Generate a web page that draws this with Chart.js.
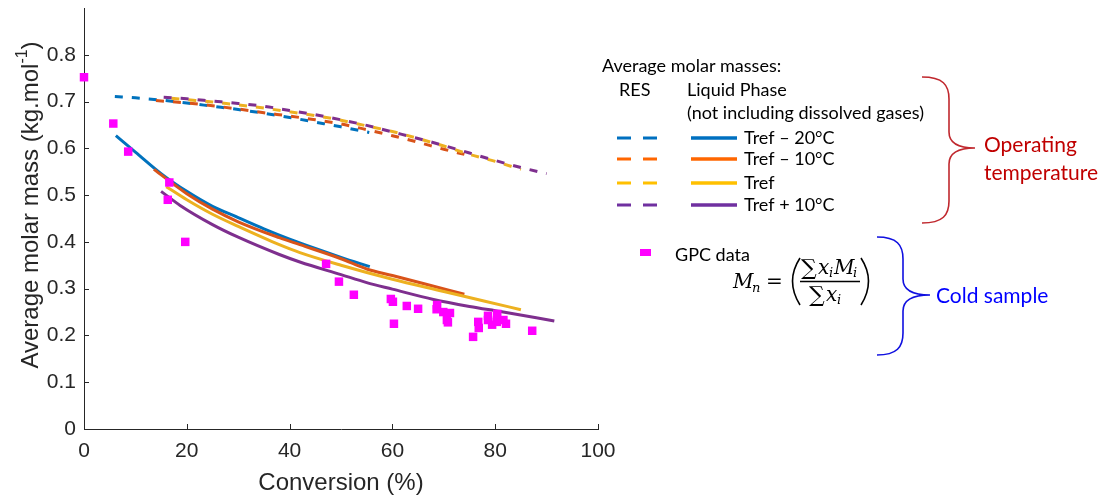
<!DOCTYPE html>
<html>
<head>
<meta charset="utf-8">
<script src="https://cdn.jsdelivr.net/npm/chart.js@4.4.1/dist/chart.umd.min.js"></script>
<style>
html, body { margin: 0; padding: 0; background: #fff; }
canvas { display: block; }
</style>
</head>
<body>
<canvas id="chart" width="1105" height="497"></canvas>
<script>
// axis ticks
const xTicks = [0, 20, 40, 60, 80, 100];
const yTicks = [0, 0.1, 0.2, 0.3, 0.4, 0.5, 0.6, 0.7, 0.8];

// RES curves (dashed)
const resBlueX = [6, 10, 15, 20, 25, 30, 35, 40, 45, 50, 55.5];
const resBlueY = [0.711, 0.708, 0.703, 0.697, 0.690, 0.683, 0.675, 0.666, 0.656, 0.646, 0.634];
const resOrangeX = [14, 20, 25, 30, 35, 40, 45, 50, 55, 60, 65, 70, 74];
const resOrangeY = [0.702, 0.697, 0.691, 0.684, 0.676, 0.669, 0.661, 0.652, 0.640, 0.627, 0.613, 0.598, 0.587];
const resYellowX = [17, 20, 25, 30, 35, 40, 45, 50, 55, 60, 65, 70, 75, 80, 85];
const resYellowY = [0.707, 0.704, 0.699, 0.693, 0.686, 0.678, 0.670, 0.660, 0.648, 0.636, 0.621, 0.605, 0.587, 0.572, 0.555];
const resPurpleX = [15.5, 20, 25, 30, 35, 40, 45, 50, 55, 60, 65, 70, 75, 80, 85, 90];
const resPurpleY = [0.709, 0.706, 0.701, 0.696, 0.690, 0.681, 0.672, 0.661, 0.649, 0.635, 0.621, 0.606, 0.590, 0.574, 0.559, 0.546];

// liquid phase curves (solid)
const liqBlueX = [6.2, 10, 15, 20, 25, 30, 35, 40, 45, 50, 55.6];
const liqBlueY = [0.627, 0.592, 0.546, 0.508, 0.476, 0.452, 0.428, 0.406, 0.386, 0.367, 0.347];
const liqOrangeX = [13.6, 20, 25, 30, 38, 42, 50, 55, 60, 66, 74];
const liqOrangeY = [0.555, 0.503, 0.470, 0.443, 0.409, 0.394, 0.364, 0.342, 0.328, 0.311, 0.288];
const liqYellowX = [16, 20, 25, 30, 38, 42, 50, 60, 70, 78, 85];
const liqYellowY = [0.518, 0.490, 0.459, 0.433, 0.394, 0.377, 0.350, 0.320, 0.294, 0.273, 0.255];
const liqPurpleX = [15, 18.7, 25, 30, 38, 42, 50, 55, 60, 68, 75, 81, 91.5];
const liqPurpleY = [0.508, 0.478, 0.437, 0.410, 0.373, 0.357, 0.330, 0.313, 0.299, 0.277, 0.262, 0.251, 0.231];

// GPC data (cold sample)
const gpcX = [0, 5.7, 8.6, 16.6, 16.3, 19.7, 47.1, 49.6, 52.5, 59.7, 60.1, 60.3, 62.8, 65, 68.7, 68.6, 69.9, 71.2,
              70.6, 70.8, 75.7, 76.7, 76.8, 78.6, 78.6, 79.4, 80.4, 80.3, 81.6, 82.1, 87.2];
const gpcY = [0.752, 0.653, 0.593, 0.527, 0.490, 0.400, 0.353, 0.315, 0.287, 0.278, 0.272, 0.225, 0.263, 0.257, 0.265, 0.256, 0.250, 0.248,
              0.233, 0.228, 0.197, 0.229, 0.216, 0.242, 0.233, 0.223, 0.246, 0.229, 0.233, 0.225, 0.210];

const colors = { blue: '#0072BD', orange: '#D95319', yellow: '#EDB120', purple: '#7E2F8E' };
const legendColors = { blue: '#0070C0', orange: '#FF6600', yellow: '#FFC000', purple: '#7030A0' };
const inkColor = '#262626';

function pts(xs, ys) {
  return xs.map((x, i) => ({ x: x, y: ys[i] }));
}

function curve(xs, ys, color, dashed) {
  return {
    data: pts(xs, ys),
    showLine: true,
    borderColor: color,
    borderWidth: 3,
    borderDash: dashed ? [8, 9] : [],
    pointRadius: 0,
    tension: 0.4,
    cubicInterpolationMode: 'monotone',
    fill: false
  };
}

const datasets = [
  {
    data: pts(gpcX, gpcY),
    pointStyle: 'rect',
    pointRadius: 6,
    backgroundColor: '#FF00FF',
    borderColor: '#FF00FF',
    borderWidth: 0,
    showLine: false,
    clip: false
  },
  curve(liqPurpleX, liqPurpleY, colors.purple, false),
  curve(liqYellowX, liqYellowY, colors.yellow, false),
  curve(liqOrangeX, liqOrangeY, colors.orange, false),
  curve(liqBlueX, liqBlueY, colors.blue, false),
  curve(resPurpleX, resPurpleY, colors.purple, true),
  curve(resYellowX, resYellowY, colors.yellow, true),
  curve(resOrangeX, resOrangeY, colors.orange, true),
  curve(resBlueX, resBlueY, colors.blue, true)
];

function brace(ctx, x0, yTop, yBot, xv, xTip, yTip, color) {
  ctx.strokeStyle = color;
  ctx.lineWidth = 1.6;
  ctx.beginPath();
  ctx.moveTo(x0, yTop);
  ctx.bezierCurveTo(xv - 6, yTop, xv, yTop + 8, xv, yTop + 22);
  ctx.lineTo(xv, yTip - 16);
  ctx.quadraticCurveTo(xv, yTip, xTip, yTip);
  ctx.quadraticCurveTo(xv, yTip, xv, yTip + 16);
  ctx.lineTo(xv, yBot - 22);
  ctx.bezierCurveTo(xv, yBot - 8, xv - 6, yBot, x0, yBot);
  ctx.stroke();
}

const annotations = {
  id: 'annotations',
  afterDraw(chart) {
    const ctx = chart.ctx;
    const xs = chart.scales.x, ys = chart.scales.y;
    const area = chart.chartArea;
    ctx.save();

    // inward tick marks
    ctx.strokeStyle = inkColor;
    ctx.lineWidth = 1;
    ctx.beginPath();
    xTicks.forEach(v => {
      if (v === 0) return;
      const px = Math.round(xs.getPixelForValue(v)) + 0.5;
      ctx.moveTo(px, area.bottom);
      ctx.lineTo(px, area.bottom - 5);
    });
    yTicks.forEach(v => {
      if (v === 0) return;
      const py = Math.round(ys.getPixelForValue(v)) + 0.5;
      ctx.moveTo(area.left, py);
      ctx.lineTo(area.left + 5, py);
    });
    ctx.stroke();

    // axis titles
    ctx.fillStyle = inkColor;
    ctx.font = '24px "Liberation Sans", Arial, sans-serif';
    ctx.textAlign = 'center';
    ctx.textBaseline = 'middle';
    ctx.fillText('Conversion (%)', (area.left + area.right) / 2, 483);

    ctx.save();
    ctx.translate(31, 205);
    ctx.rotate(-Math.PI / 2);
    const t1 = 'Average molar mass (kg.mol', t2 = '-1', t3 = ')';
    ctx.font = '24px "Liberation Sans", Arial, sans-serif';
    const w1 = ctx.measureText(t1).width, w3 = ctx.measureText(t3).width;
    ctx.font = '16px "Liberation Sans", Arial, sans-serif';
    const w2 = ctx.measureText(t2).width;
    let sx = -(w1 + w2 + w3) / 2;
    ctx.textAlign = 'left';
    ctx.font = '24px "Liberation Sans", Arial, sans-serif';
    ctx.fillText(t1, sx, 0);
    ctx.font = '16px "Liberation Sans", Arial, sans-serif';
    ctx.fillText(t2, sx + w1, -8);
    ctx.font = '24px "Liberation Sans", Arial, sans-serif';
    ctx.fillText(t3, sx + w1 + w2, 0);
    ctx.restore();

    // legend
    ctx.font = '18px Lato, "Open Sans", sans-serif';
    ctx.fillStyle = '#000';
    ctx.textAlign = 'left';
    ctx.textBaseline = 'middle';
    ctx.fillText('Average molar masses:', 602, 66);
    ctx.fillText('RES', 619, 90);
    ctx.fillText('Liquid Phase', 687, 90);
    ctx.fillText('(not including dissolved gases)', 687, 113);
    const rows = [
      ['blue', 'Tref \u2013 20\u00B0C', 138],
      ['orange', 'Tref \u2013 10\u00B0C', 159],
      ['yellow', 'Tref', 183],
      ['purple', 'Tref + 10\u00B0C', 205]
    ];
    rows.forEach(r => {
      ctx.strokeStyle = legendColors[r[0]];
      ctx.lineWidth = 3;
      ctx.beginPath();
      ctx.moveTo(617, r[2]); ctx.lineTo(631, r[2]);
      ctx.moveTo(643, r[2]); ctx.lineTo(657, r[2]);
      ctx.stroke();
      ctx.lineWidth = 3.5;
      ctx.beginPath();
      ctx.moveTo(691, r[2]); ctx.lineTo(737, r[2]);
      ctx.stroke();
      ctx.fillStyle = '#000';
      ctx.fillText(r[1], 744, r[2]);
    });

    // GPC legend entry
    ctx.fillStyle = '#FF00FF';
    ctx.fillRect(640, 249, 11, 7);
    ctx.fillStyle = '#000';
    ctx.fillText('GPC data', 675, 255);

    // formula Mn = (sum xi Mi / sum xi)
    const it = 'italic 20px "DejaVu Serif", "Liberation Serif", serif';
    const sub = 'italic 13px "DejaVu Serif", "Liberation Serif", serif';
    const up = '20px "DejaVu Serif", "Liberation Serif", serif';
    const sig = '22px "DejaVu Serif", "Liberation Serif", serif';
    ctx.font = it; ctx.fillText('M', 733, 283);
    ctx.font = sub; ctx.fillText('n', 752, 289);
    ctx.font = up; ctx.fillText('=', 766, 283);
    ctx.font = sig; ctx.fillText('\u2211', 801, 269);
    ctx.font = it; ctx.fillText('x', 818, 269);
    ctx.font = sub; ctx.fillText('i', 829, 274);
    ctx.font = it; ctx.fillText('M', 834, 269);
    ctx.font = sub; ctx.fillText('i', 853, 274);
    ctx.font = sig; ctx.fillText('\u2211', 809, 296);
    ctx.font = it; ctx.fillText('x', 826, 296);
    ctx.font = sub; ctx.fillText('i', 837, 301);
    ctx.strokeStyle = '#000';
    ctx.lineWidth = 1.3;
    ctx.beginPath();
    ctx.moveTo(800, 281.5); ctx.lineTo(860, 281.5);
    ctx.stroke();
    ctx.lineWidth = 1.6;
    ctx.beginPath();
    ctx.moveTo(800, 258); ctx.quadraticCurveTo(785, 281, 800, 305);
    ctx.moveTo(861, 258); ctx.quadraticCurveTo(876, 281, 861, 305);
    ctx.stroke();

    // braces and their notes
    brace(ctx, 922, 77, 223, 949, 975, 148, '#C0282E');
    ctx.fillStyle = '#C00000';
    ctx.font = '21px Lato, "Open Sans", sans-serif';
    ctx.fillText('Operating', 984, 145);
    ctx.fillText('temperature', 984, 173);

    brace(ctx, 877, 237, 355, 903, 930, 295, '#1010E0');
    ctx.fillStyle = '#0000FF';
    ctx.fillText('Cold sample', 936, 296);

    ctx.restore();
  }
};

new Chart(document.getElementById('chart'), {
  type: 'scatter',
  data: { datasets: datasets },
  options: {
    responsive: false,
    animation: false,
    devicePixelRatio: 1,
    layout: { padding: { top: 8, right: 507, left: 0, bottom: 0 } },
    plugins: { legend: { display: false }, tooltip: { enabled: false } },
    scales: {
      x: {
        type: 'linear',
        min: 0,
        max: 100,
        afterFit: s => { s.height = 68; s.paddingLeft = 0; s.paddingRight = 0; },
        grid: { display: false, drawTicks: false },
        border: { display: true, color: inkColor, width: 1 },
        ticks: {
          stepSize: 20,
          padding: 10,
          color: inkColor,
          font: { family: '"Liberation Sans", Arial, sans-serif', size: 21 },
          callback: v => v.toString()
        }
      },
      y: {
        type: 'linear',
        min: 0,
        max: 0.9,
        afterFit: s => { s.width = 84; s.paddingTop = 0; s.paddingBottom = 0; },
        grid: { display: false, drawTicks: false },
        border: { display: true, color: inkColor, width: 1 },
        ticks: {
          stepSize: 0.1,
          padding: 8,
          color: inkColor,
          font: { family: '"Liberation Sans", Arial, sans-serif', size: 21 },
          callback: v => (v > 0.85 ? '' : (Math.round(v * 10) / 10).toString())
        }
      }
    }
  },
  plugins: [annotations]
});
</script>
</body>
</html>
